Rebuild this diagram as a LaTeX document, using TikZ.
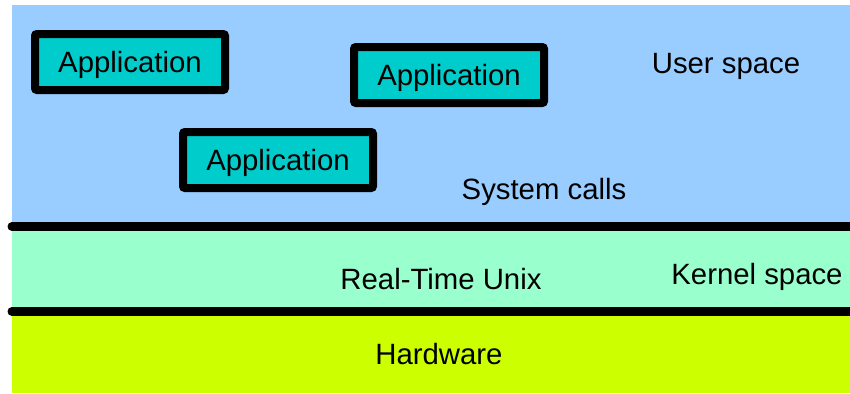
\documentclass[tikz,border=0pt]{standalone}
\usepackage{fontspec}
\setmainfont{Liberation Sans}
\usetikzlibrary{calc}
\definecolor{user_blue}{RGB}{153, 204, 255}
\definecolor{kernel_green}{RGB}{153, 255, 204}
\definecolor{hw_yellow}{RGB}{204, 255, 0}
\definecolor{app_cyan}{RGB}{0, 204, 204}
\tikzstyle{appbox}=[rectangle,rounded corners=1.5pt,fill=app_cyan,draw=black,
  line width=6pt,inner sep=0pt,minimum width=142.5pt,minimum height=42pt,
  text depth=0pt,font=\fontsize{22}{26}\selectfont]
\tikzstyle{lbl}=[inner sep=0pt,text depth=0pt,font=\fontsize{22}{26}\selectfont]
\tikzstyle{layerline}=[line width=6.75pt,line cap=round]

\begin{document}
\begin{tikzpicture}[x=0.75pt, y=-0.75pt]
    \useasboundingbox (0, 0) rectangle (850, 393);
    \fill [white] (0, 0) rectangle (850, 393);
    \fill [user_blue] (12, 5) rectangle (850, 227);
    \fill [kernel_green] (12, 227) rectangle (850, 311);
    \fill [hw_yellow] (12, 311) rectangle (850, 393);
    \coordinate (ul) at (12, 226.5);
    \coordinate (ur) at (856, 226.5);
    \coordinate (kl) at (12, 311.5);
    \coordinate (kr) at (856, 311.5);
    \draw [style=layerline] (ul) to (ur);
    \draw [style=layerline] (kl) to (kr);
    \node [style=appbox] (app1) at (130, 62) {Application};
    \node [style=appbox] (app2) at (449, 75) {Application};
    \node [style=appbox] (app3) at (278, 160) {Application};
    \node [style=lbl] (user) at (726, 63) {User space};
    \node [style=lbl] (calls) at (544, 189) {System calls};
    \node [style=lbl] (rtu) at (441, 279) {Real-Time Unix};
    \node [style=lbl] (kernel) at (757, 274) {Kernel space};
    \node [style=lbl] (hw) at (439, 354) {Hardware};
  \end{tikzpicture}
\end{document}
